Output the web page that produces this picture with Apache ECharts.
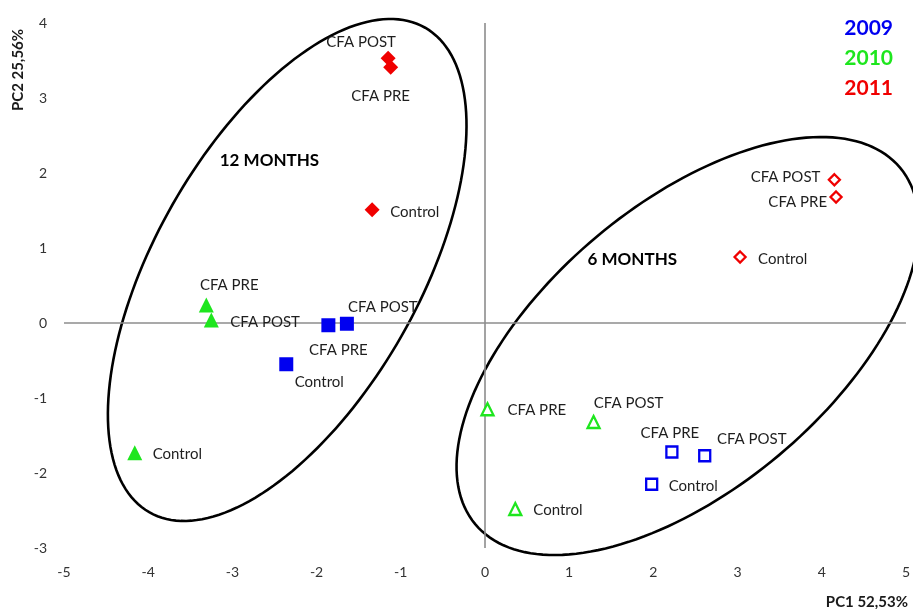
<!DOCTYPE html>
<html>
<head>
<meta charset="utf-8">
<script src="https://cdn.jsdelivr.net/npm/echarts@6/dist/echarts.min.js"></script>
<style>
  html, body { margin: 0; padding: 0; background: #ffffff; }
  #chart { width: 913px; height: 609px; }
</style>
</head>
<body>
<div id="chart"></div>
<script>
// Treatment order used by every score list below
const treatments = ['CFA PRE', 'CFA POST', 'Control'];
const years = ['2009', '2010', '2011'];

// PCA scores [PC1, PC2], 12-month sampling (filled symbols)
const scores2009_12m = [[-1.86, -0.03], [-1.64, -0.01], [-2.36, -0.55]];
const scores2010_12m = [[-3.31, 0.24], [-3.25, 0.04], [-4.16, -1.73]];
const scores2011_12m = [[-1.12, 3.41], [-1.15, 3.53], [-1.34, 1.51]];

// PCA scores [PC1, PC2], 6-month sampling (open symbols)
const scores2009_6m = [[2.22, -1.72], [2.61, -1.77], [1.98, -2.15]];
const scores2010_6m = [[0.03, -1.15], [1.29, -1.32], [0.36, -2.48]];
const scores2011_6m = [[4.17, 1.68], [4.15, 1.91], [3.03, 0.88]];

// Group ellipses: centre plus two conjugate semi-axis vectors, in PC units
const ellipseNames = ['12 MONTHS', '6 MONTHS'];
const ellipseCentre = [[-2.349, 0.707], [2.408, -0.307]];
const ellipseAxisU = [[1.639, 3.230], [2.524, 2.375]];
const ellipseAxisV = [[-1.360, 0.876], [-1.081, 1.458]];
const ellipseTitleAt = [[-2.56, 2.17], [1.75, 0.85]];

// Axis ranges
const pc1Range = [-5, 5];
const pc2Range = [-3, 4];

// ---------- styling ----------
const FONT = 'Lato, "Open Sans", sans-serif';
const yearColor = { '2009': '#0000f0', '2010': '#1ee61e', '2011': '#f00000' };
const yearSymbol = { '2009': 'rect', '2010': 'triangle', '2011': 'diamond' };
const filledSize = { '2009': 14, '2010': 15, '2011': 15 };
const openSize = { '2009': 11, '2010': 12, '2011': 11 };

// label placement per point: [align, dx, dy] relative to the symbol centre
const labelPlacement = {
  '2009': { m12: [['center', 10, 25], ['center', 36, -17], ['center', 33, 18]],
            m6:  [['center', -2, -19], ['center', 47, -17], ['left', 17, 2]] },
  '2010': { m12: [['center', 23, -20], ['left', 19, 2], ['left', 18, 1]],
            m6:  [['left', 20, 1], ['center', 35, -19], ['left', 18, 1]] },
  '2011': { m12: [['center', -10, 29], ['center', -27, -16], ['left', 18, 2]],
            m6:  [['right', -9, 5], ['right', -14, -3], ['left', 18, 2]] }
};

const scoresByYear = {
  '2009': { m12: scores2009_12m, m6: scores2009_6m },
  '2010': { m12: scores2010_12m, m6: scores2010_6m },
  '2011': { m12: scores2011_12m, m6: scores2011_6m }
};

function pointItems(year, period) {
  const color = yearColor[year];
  return scoresByYear[year][period].map(function (v, i) {
    const p = labelPlacement[year][period][i];
    const open = period === 'm6';
    return {
      name: treatments[i],
      value: v,
      symbolSize: open ? openSize[year] : filledSize[year],
      itemStyle: open
        ? { color: '#ffffff', borderColor: color, borderWidth: 2.3, opacity: 1 }
        : { color: color, borderWidth: 0, opacity: 1 },
      label: {
        show: true,
        position: 'inside',
        align: p[0],
        verticalAlign: 'middle',
        offset: [p[1], p[2]],
        formatter: '{b}',
        color: '#1e1e1e',
        fontFamily: FONT,
        fontSize: 15,
        textBorderWidth: 0
      }
    };
  });
}

const scatterSeries = years.map(function (year) {
  return {
    name: year,
    type: 'scatter',
    symbol: yearSymbol[year],
    z: 5,
    itemStyle: { color: yearColor[year], opacity: 1 },
    data: pointItems(year, 'm12').concat(pointItems(year, 'm6'))
  };
});

// ellipse outlines with their group titles, traced through the axis scales
const ellipseData = ellipseCentre.map(function (c, i) {
  return [c[0], c[1], ellipseAxisU[i][0], ellipseAxisU[i][1],
          ellipseAxisV[i][0], ellipseAxisV[i][1],
          ellipseTitleAt[i][0], ellipseTitleAt[i][1]];
});

const ellipseSeries = {
  type: 'custom',
  z: 2,
  silent: true,
  data: ellipseData,
  encode: { x: 0, y: 1 },
  renderItem: function (params, api) {
    const cx = api.value(0), cy = api.value(1);
    const ux = api.value(2), uy = api.value(3);
    const vx = api.value(4), vy = api.value(5);
    const pts = [];
    const n = 180;
    for (let k = 0; k < n; k++) {
      const t = 2 * Math.PI * k / n;
      pts.push(api.coord([cx + Math.cos(t) * ux + Math.sin(t) * vx,
                          cy + Math.cos(t) * uy + Math.sin(t) * vy]));
    }
    const titlePos = api.coord([api.value(6), api.value(7)]);
    return {
      type: 'group',
      children: [
        { type: 'polygon', shape: { points: pts, smooth: 0 },
          style: { fill: 'none', stroke: '#000000', lineWidth: 2.6 } },
        { type: 'text', x: titlePos[0], y: titlePos[1],
          style: { text: ellipseNames[params.dataIndex], fill: '#000000',
                   font: 'bold 17px ' + FONT, align: 'center', verticalAlign: 'middle' } }
      ]
    };
  },
  markLine: {
    silent: true,
    symbol: ['none', 'none'],
    animation: false,
    label: { show: false },
    lineStyle: { color: '#8c8c8c', width: 1.6, type: 'solid' },
    data: [{ xAxis: 0 }, { yAxis: 0 }]
  }
};

const chart = echarts.init(document.getElementById('chart'), null, { renderer: 'canvas' });
chart.setOption({
  animation: false,
  backgroundColor: '#ffffff',
  grid: { left: 64, right: 4, top: 23, bottom: 61, containLabel: false },
  legend: {
    orient: 'vertical',
    right: 20,
    top: 18,
    padding: 0,
    itemGap: 9,
    icon: 'none',
    itemWidth: 0,
    itemHeight: 0,
    selectedMode: false,
    textStyle: { fontFamily: FONT, fontSize: 21, fontWeight: 'bold', padding: 0 },
    data: years.map(function (y) {
      return { name: y, textStyle: { color: yearColor[y] } };
    })
  },
  xAxis: {
    type: 'value',
    min: pc1Range[0], max: pc1Range[1], interval: 1,
    axisLine: { show: false, onZero: false },
    axisTick: { show: false },
    splitLine: { show: false },
    axisLabel: { margin: 17, color: '#333333', fontFamily: FONT, fontSize: 14 }
  },
  yAxis: {
    type: 'value',
    min: pc2Range[0], max: pc2Range[1], interval: 1,
    axisLine: { show: false, onZero: false },
    axisTick: { show: false },
    splitLine: { show: false },
    axisLabel: { margin: 17, color: '#333333', fontFamily: FONT, fontSize: 14 }
  },
  graphic: [
    { type: 'text', x: 908, y: 602,
      style: { text: 'PC1 52,53%', font: 'bold 15px ' + FONT, fill: '#1a1a1a',
               align: 'right', verticalAlign: 'middle' } },
    { type: 'text', x: 18, y: 70, rotation: Math.PI / 2,
      style: { text: 'PC2 25,56%', font: 'bold 15px ' + FONT, fill: '#1a1a1a',
               align: 'center', verticalAlign: 'middle' } }
  ],
  series: [ellipseSeries].concat(scatterSeries)
});
</script>
</body>
</html>
